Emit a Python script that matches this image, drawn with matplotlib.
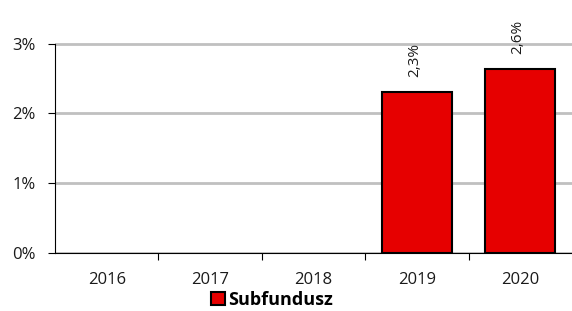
import matplotlib.pyplot as plt
import numpy as np

years = ["2016", "2017", "2018", "2019", "2020"]
values = [np.nan, np.nan, np.nan, 2.3, 2.63]
labels = ["", "", "", "2,3%", "2,6%"]
yticks = [0, 1, 2, 3]
ytick_labels = ["0%", "1%", "2%", "3%"]

plt.rcParams['font.family'] = ['Open Sans', 'DejaVu Sans']

fig = plt.figure(figsize=(5.72, 3.11), dpi=100)
ax = fig.add_axes([55 / 572, 1 - 253 / 311, 1 - 55 / 572, 253 / 311])

x = np.arange(len(years))
bars = ax.bar(x, values, width=0.68, color="#e60000", edgecolor="black",
              linewidth=1.5, label="Subfundusz", zorder=3)

for xi, v, lab in zip(x, values, labels):
    if lab:
        ax.text(xi - 0.02, v + 0.22, lab, rotation=90, ha="center", va="bottom",
                fontsize=11, color="#1a1a1a")

ax.set_xlim(-0.5, len(years) - 0.5)
ax.set_ylim(0, 3.625)
ax.set_yticks(yticks)
ax.set_yticklabels(ytick_labels, fontsize=12, color="#1a1a1a")
ax.set_xticks(x)
ax.set_xticklabels(years, fontsize=12, color="#1a1a1a")
ax.set_xticks(np.arange(0.5, len(years) - 0.5), minor=True)
ax.tick_params(axis="x", which="major", length=0, pad=14)
ax.tick_params(axis="x", which="minor", length=5, width=0.8, direction="out")
ax.tick_params(axis="y", length=5, width=0.8, direction="out", pad=9)

ax.grid(axis="y", color="#c0c0c0", linewidth=2, zorder=0)
ax.set_axisbelow(True)
for s in ["top", "right"]:
    ax.spines[s].set_visible(False)
ax.spines["left"].set_bounds(0, 3)
ax.spines["left"].set_linewidth(0.8)
ax.spines["bottom"].set_linewidth(0.8)

leg = fig.legend(handles=[bars], loc="center", bbox_to_anchor=(272 / 572, 1 - 300 / 311),
                 frameon=False, prop={"weight": "bold", "size": 13},
                 handlelength=0.75, handleheight=0.75, handletextpad=0.2,
                 borderpad=0)

fig.savefig("out.png", dpi=100)
